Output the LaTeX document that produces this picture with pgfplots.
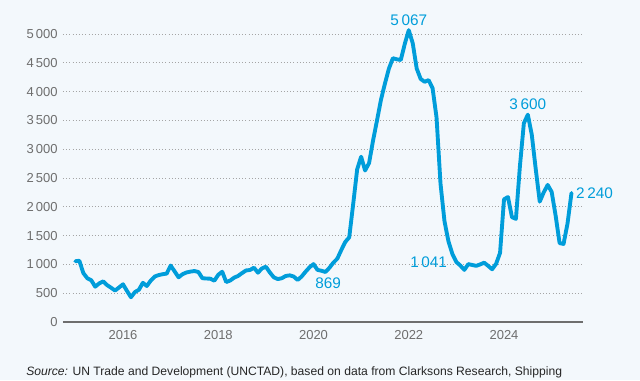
\documentclass[border=0pt]{standalone}
\usepackage{fontspec}
\setmainfont{Liberation Sans}
\usepackage{pgfplots}
\pgfplotsset{compat=1.18}
\definecolor{bg}{RGB}{243,248,252}
\definecolor{serie}{RGB}{0,157,218}
\definecolor{tickc}{RGB}{110,110,110}
\definecolor{gridc}{RGB}{165,165,165}
\definecolor{axisc}{RGB}{110,110,110}
\begin{document}
\begin{tikzpicture}[x=1pt,y=1pt]
\fill[bg] (-47.25,-43.5) rectangle (432.75,241.5);
\begin{axis}[at={(0,0)}, anchor=south west,
  scale only axis, width=390pt, height=216pt,
  xmin=-3.12, xmax=127.9, ymin=0, ymax=5000,
  clip=false,
  separate axis lines,
  axis x line*=bottom, axis y line*=left,
  y axis line style={draw=none},
  x axis line style={draw=axisc, line width=1.5pt, -},
  major tick length=0pt,
  tick style={draw=none},
  ymajorgrids,
  grid style={dotted, draw=gridc, line width=0.7pt},
  ytick={0,500,1000,1500,2000,2500,3000,3500,4000,4500,5000},
  yticklabels={0,500,1\,000,1\,500,2\,000,2\,500,3\,000,3\,500,4\,000,4\,500,5\,000},
  xtick={12,36,60,84,108},
  xticklabels={2016,2018,2020,2022,2024},
  ticklabel style={font=\fontsize{9.75}{11}\selectfont, text=tickc},
  xticklabel style={yshift=-3pt},
  yticklabel style={xshift=-0.5pt},
]
\addplot[serie, line width=2.9pt, line join=round, line cap=round] table[x=m, y=v] {
m v
0 1055
1 1064
2 850
3 760
4 725
5 613
6 670
7 705
8 640
9 595
10 545
11 600
12 655
13 540
14 430
15 520
16 560
17 680
18 625
19 720
20 790
21 815
22 830
23 840
24 980
25 880
26 776
27 830
28 860
29 875
30 885
31 868
32 760
33 755
34 752
35 717
36 820
37 873
38 694
39 720
40 770
41 800
42 850
43 895
44 903
45 943
46 856
47 930
48 960
49 860
50 776
51 745
52 760
53 799
54 810
55 790
56 729
57 790
58 873
59 950
60 1005
61 905
62 890
63 869
64 940
65 1030
66 1100
67 1250
68 1390
69 1470
70 2050
71 2650
72 2870
73 2630
74 2760
75 3150
76 3500
77 3860
78 4140
79 4400
80 4580
81 4560
82 4550
83 4830
84 5067
85 4840
86 4400
87 4220
88 4170
89 4200
90 4060
91 3550
92 2400
93 1750
94 1400
95 1180
96 1041
97 980
98 905
99 1005
100 990
101 975
102 1000
103 1030
104 975
105 915
106 1010
107 1200
108 2130
109 2170
110 1820
111 1790
112 2700
113 3450
114 3600
115 3250
116 2650
117 2090
118 2250
119 2380
120 2260
121 1850
122 1370
123 1355
124 1710
125 2240
};
\node[anchor=south, text=serie, font=\fontsize{11.5}{12}\selectfont] at (axis cs:84,5067) {5\,067};
\node[anchor=south, text=serie, font=\fontsize{11.5}{12}\selectfont] at (axis cs:114,3600) {3\,600};
\node[anchor=west, text=serie, font=\fontsize{11.5}{12}\selectfont] at (axis cs:125,2240) {2\,240};
\node[anchor=east, text=serie, font=\fontsize{11.5}{12}\selectfont, xshift=-3.5pt] at (axis cs:96,1041) {1\,041};
\node[anchor=north, text=serie, font=\fontsize{11.5}{12}\selectfont, xshift=2pt, yshift=-1pt] at (axis cs:63,869) {869};
\end{axis}
\node[anchor=base west, inner sep=0pt, text=black!85, font=\fontsize{9.1}{11}\selectfont] at (-27.75,-40.3) {\textit{Source:} UN Trade and Development (UNCTAD), based on data from Clarksons Research, Shipping};
\pgfresetboundingbox
\path (-47.25,-43.5) rectangle (432.75,241.5);
\end{tikzpicture}
\end{document}
